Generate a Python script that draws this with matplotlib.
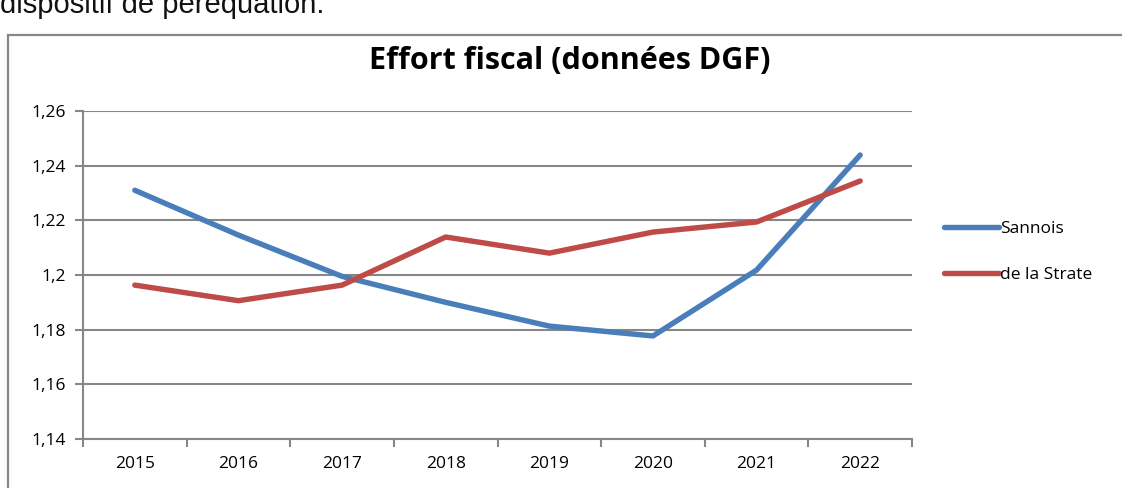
import matplotlib.pyplot as plt
from matplotlib.patches import Rectangle
from matplotlib.ticker import FixedLocator, FuncFormatter

plt.rcParams['font.family'] = ['Open Sans', 'DejaVu Sans']

# data
years = ['2015', '2016', '2017', '2018', '2019', '2020', '2021', '2022']
sannois = [1.231, 1.2146, 1.1995, 1.190, 1.1813, 1.1777, 1.2018, 1.2439]
strate = [1.1963, 1.1906, 1.1963, 1.2139, 1.208, 1.2157, 1.2194, 1.2344]
yticks = [1.14, 1.16, 1.18, 1.2, 1.22, 1.24, 1.26]

blue = '#4a7ebb'
red = '#be4b48'
grey = '#878787'

fig = plt.figure(figsize=(11.22, 4.88), dpi=100)

# outer chart frame (cut by the image edge like the screenshot)
fig.patches.append(Rectangle((8 / 1122, -0.1), 1.2, 1 - 35 / 488 + 0.1,
                             transform=fig.transFigure, fill=False,
                             edgecolor=grey, linewidth=1.6))
# text above the chart, partly cropped as in the screenshot
fig.text(0.0, 1 - 13 / 488, 'dispositif de péréquation.', fontsize=21,
         family='Liberation Sans', ha='left', va='baseline', color='#111111')

ax = fig.add_axes([83 / 1122, 49 / 488, 829 / 1122, 328 / 488])
x = list(range(len(years)))
ax.plot(x, sannois, color=blue, linewidth=3.9, label='Sannois', solid_capstyle='round')
ax.plot(x, strate, color=red, linewidth=3.9, label='de la Strate', solid_capstyle='round')

ax.set_xlim(-0.5, len(years) - 0.5)
ax.set_ylim(1.14, 1.26)
ax.set_yticks(yticks)
ax.yaxis.set_major_formatter(FuncFormatter(lambda v, p: ('%g' % round(v, 2)).replace('.', ',')))
ax.set_xticks(x)
ax.set_xticklabels(years)
ax.xaxis.set_minor_locator(FixedLocator([i - 0.5 for i in range(len(years) + 1)]))
ax.tick_params(axis='x', which='major', length=0, pad=12, labelsize=12.5)
ax.tick_params(axis='x', which='minor', length=6, width=1.5, color=grey)
ax.tick_params(axis='y', length=6, width=1.5, color=grey, labelsize=12.5, pad=6)

ax.grid(axis='y', color=grey, linewidth=1.5)
ax.set_axisbelow(True)
for s in ['top', 'right']:
    ax.spines[s].set_visible(False)
for s in ['left', 'bottom']:
    ax.spines[s].set_color(grey)
    ax.spines[s].set_linewidth(1.5)

fig.text(570 / 1122, 1 - 61 / 488, 'Effort fiscal (données DGF)', fontsize=22,
         fontweight='bold', ha='center', va='center')

fig.legend(loc='center left', bbox_to_anchor=(935 / 1122, 1 - 252 / 488),
           frameon=False, fontsize=12.5, handlelength=3.2, handletextpad=0.05,
           labelspacing=1.75, borderpad=0)

fig.savefig('out.png', dpi=100)
